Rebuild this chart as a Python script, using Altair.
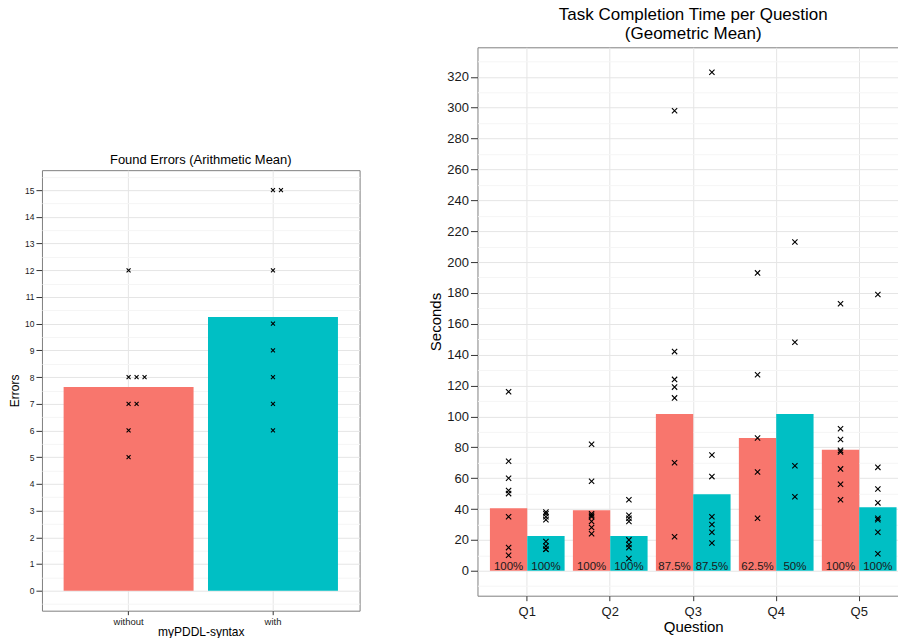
import altair as alt
import pandas as pd

FONT = "Liberation Sans"

# ---------------- data: left chart (found errors) ----------------
syntax = ["without", "with"]
errors_without = [12, 8, 8, 8, 7, 7, 6, 5]
errors_with = [15, 15, 12, 10, 9, 8, 7, 6]
error_means = [7.63, 10.25]
error_ticks = [v / 2 for v in range(-1, 32)]  # -0.5 ... 15.5 (majors at integers)

# ---------------- data: right chart (completion time) ----------------
questions = ["Q1", "Q2", "Q3", "Q4", "Q5"]
time_mean_without = [40.5, 39.2, 101.5, 86.1, 78.4]
time_mean_with = [22.5, 22.5, 49.5, 101.5, 41.1]
pct_without = ["100%", "100%", "87.5%", "62.5%", "100%"]
pct_with = ["100%", "100%", "87.5%", "50%", "100%"]
times_without = {
    "Q1": [116, 71, 60, 52, 50, 35, 15, 10],
    "Q2": [82, 58, 37, 36, 35, 32, 28, 24],
    "Q3": [298, 142, 124, 119, 112, 70, 22],
    "Q4": [193, 127, 86, 64, 34],
    "Q5": [173, 92, 85, 78, 77, 66, 56, 46],
}
times_with = {
    "Q1": [38, 37, 35, 33, 19, 16, 14, 14],
    "Q2": [46, 36, 34, 32, 20, 17, 15, 8],
    "Q3": [323, 75, 61, 35, 30, 25, 18],
    "Q4": [213, 148, 68, 48],
    "Q5": [179, 67, 53, 44, 34, 33, 25, 11],
}
time_ticks = list(range(-10, 340, 10))  # majors every 20

colors = ["#F8766D", "#00BFC4"]
XSHAPE = "M-1,-1L1,1M-1,1L1,-1"
MAJOR = "#e5e5e5"
MINOR = "#f5f5f5"

# ---------------- tables ----------------
err_pts = pd.DataFrame({
    "syntax": ["without"] * len(errors_without) + ["with"] * len(errors_with),
    "errors": errors_without + errors_with,
})
err_pts["dup"] = err_pts.groupby(["syntax", "errors"]).cumcount()
err_bars = pd.DataFrame({"syntax": syntax, "mean": error_means})

t_bars = pd.DataFrame({
    "question": questions * 2,
    "syntax": ["without"] * 5 + ["with"] * 5,
    "seconds": time_mean_without + time_mean_with,
    "pct": pct_without + pct_with,
})
rows = []
for q in questions:
    for v in times_without[q]:
        rows.append({"question": q, "syntax": "without", "seconds": v})
    for v in times_with[q]:
        rows.append({"question": q, "syntax": "with", "seconds": v})
t_pts = pd.DataFrame(rows)

color = alt.Color("syntax:N", scale=alt.Scale(domain=syntax, range=colors), legend=None)

# ---------------- left chart ----------------
LW, LH = 318, 441
x_left = alt.X(
    "syntax:N", sort=syntax,
    scale=alt.Scale(type="band", paddingInner=0.1, paddingOuter=0.15),
    axis=alt.Axis(title="myPDDL-syntax", labelAngle=0, bandPosition=0.5, grid=True,
                  labelFontSize=9.5, titleFontSize=12, tickSize=4, labelPadding=2,
                  titlePadding=0, gridColor=MAJOR),
)
y_left = alt.Y(
    "mean:Q",
    scale=alt.Scale(domain=[-0.75, 15.75], nice=False),
    axis=alt.Axis(
        title="Errors", values=error_ticks, tickCount=200, labelOverlap=False,
        labelExpr="datum.value % 1 === 0 ? '' + datum.value : ''",
        gridColor={"condition": {"test": "datum.value % 1 === 0", "value": MAJOR}, "value": MINOR},
        tickOpacity={"condition": {"test": "datum.value % 1 === 0", "value": 1}, "value": 0},
        tickSize=6, labelFontSize=8.5, titleFontSize=12, labelPadding=2, titlePadding=3,
    ),
)
left_bars = alt.Chart(err_bars).mark_bar().encode(x=x_left, y=y_left, color=color)
left_layers = [left_bars]
for k in range(3):
    left_layers.append(
        alt.Chart(err_pts).transform_filter(alt.datum.dup == k).mark_point(
            shape=XSHAPE, filled=False, color="black", size=16, strokeWidth=1.1,
            opacity=1, xOffset=8 * k
        ).encode(x=alt.X("syntax:N", sort=syntax), y=alt.Y("errors:Q"))
    )
left = alt.layer(*left_layers).properties(
    width=LW, height=LH,
    title=alt.TitleParams("Found Errors (Arithmetic Mean)", fontSize=13, offset=3),
)

spacer = alt.Chart(pd.DataFrame({"v": [0]})).mark_point(opacity=0).encode(
    x=alt.X("v:Q", axis=None), y=alt.Y("v:Q", axis=None)
).properties(width=LW, height=105, view=alt.ViewBackground(stroke="transparent"))

left_col = alt.vconcat(spacer, left, spacing=0)

# ---------------- right chart ----------------
RW, RH = 432, 549
x_right = alt.X(
    "question:N", sort=questions,
    scale=alt.Scale(type="band", paddingInner=0.1, paddingOuter=0.15),
    axis=alt.Axis(title="Question", labelAngle=0, bandPosition=0.5, grid=True,
                  labelFontSize=13, titleFontSize=15, tickSize=5, labelPadding=5,
                  titlePadding=1, gridColor=MAJOR),
)
x_off = alt.XOffset("syntax:N", sort=syntax, scale=alt.Scale(paddingInner=0, paddingOuter=0))
y_right = alt.Y(
    "seconds:Q",
    scale=alt.Scale(domain=[-16.15, 339.15], nice=False),
    axis=alt.Axis(
        title="Seconds", values=time_ticks, tickCount=200, labelOverlap=False,
        labelExpr="datum.value % 20 === 0 ? datum.label : ''",
        gridColor={"condition": {"test": "datum.value % 20 === 0", "value": MAJOR}, "value": MINOR},
        tickOpacity={"condition": {"test": "datum.value % 20 === 0", "value": 1}, "value": 0},
        tickSize=7, labelFontSize=13, titleFontSize=15, labelPadding=2, titlePadding=3,
    ),
)
r_bars = alt.Chart(t_bars).mark_bar().encode(x=x_right, xOffset=x_off, y=y_right, color=color)
r_text = alt.Chart(t_bars).mark_text(
    baseline="alphabetic", align="center", dy=-1, fontSize=11.5, font=FONT, color="#1a1a1a"
).encode(x=alt.X("question:N", sort=questions), xOffset=x_off, y=alt.datum(0), text="pct:N")
r_pts = alt.Chart(t_pts).mark_point(
    shape=XSHAPE, filled=False, color="black", size=28, strokeWidth=1.1, opacity=1
).encode(x=alt.X("question:N", sort=questions), xOffset=x_off, y=alt.Y("seconds:Q"))

right = alt.layer(r_bars, r_text, r_pts).properties(
    width=RW, height=RH,
    title=alt.TitleParams(["Task Completion Time per Question", "(Geometric Mean)"],
                          fontSize=17, lineHeight=19, offset=4),
)

chart = alt.hconcat(left_col, right, spacing=67).properties(
    padding={"left": 0, "top": -3, "right": -12, "bottom": 0}
).configure_view(
    stroke="#7f7f7f", strokeWidth=1
).configure_axis(
    domain=False, labelFont=FONT, titleFont=FONT, labelColor="#1a1a1a",
    titleColor="#000000", tickColor="#333333", titleFontWeight="normal",
).configure_title(
    font=FONT, fontWeight="normal", color="#000000", anchor="middle"
)

chart.save("out.html", embed_options={"renderer": "svg", "actions": False})
